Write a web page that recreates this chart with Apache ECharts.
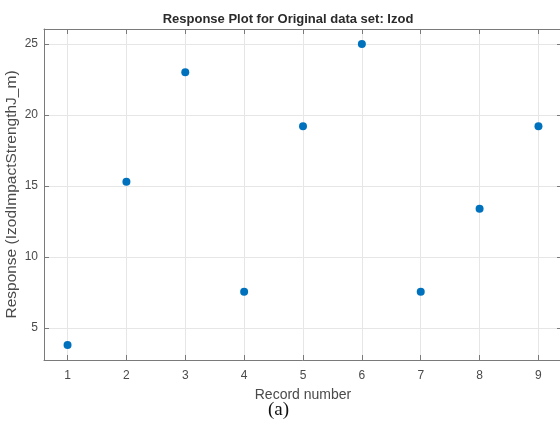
<!DOCTYPE html>
<html>
<head>
<meta charset="utf-8">
<script src="https://cdn.jsdelivr.net/npm/echarts@6/dist/echarts.min.js"></script>
<style>
  html, body { margin: 0; padding: 0; background: #fff; }
  #chart { width: 560px; height: 426px; }
</style>
</head>
<body>
<div id="chart"></div>
<script>
// Record numbers and the measured Izod impact strength response
const recordNumbers = [1, 2, 3, 4, 5, 6, 7, 8, 9];
const responseValues = [3.8, 15.3, 23.0, 7.55, 19.2, 25.0, 7.55, 13.4, 19.2];
const xTickValues = [1, 2, 3, 4, 5, 6, 7, 8, 9];
const yTickValues = [5, 10, 15, 20, 25];

const titleText = 'Response Plot for Original data set: Izod';
const xAxisName = 'Record number';
const yAxisName = 'Response (IzodImpactStrengthJ_m)';
const captionText = '(a)';

const xRange = [0.6, 9.4];
const yRange = [2.75, 26.05];

const axisColor = '#7a7a7a';
const labelColor = '#4a4a4a';
const gridColor = '#e6e6e6';
const markerColor = '#0072BD';
const sansFont = '"Liberation Sans", Arial, sans-serif';

const points = recordNumbers.map((r, i) => [r, responseValues[i]]);

const chart = echarts.init(document.getElementById('chart'), null, { renderer: 'canvas' });

const baseX = {
  type: 'value', min: xRange[0], max: xRange[1], gridIndex: 0
};
const baseY = {
  type: 'value', min: yRange[0], max: yRange[1], gridIndex: 0
};

chart.setOption({
  animation: false,
  backgroundColor: '#fff',
  title: [{
    text: titleText,
    left: 283, top: 8, textAlign: 'center',
    textStyle: { fontFamily: sansFont, fontSize: 13, fontWeight: 'bold', color: '#2b2b2b' }
  }],
  graphic: [{
    type: 'text',
    left: 268, top: 401,
    style: { text: captionText, font: '19px "Liberation Serif", "DejaVu Serif", serif', fill: '#111' }
  }],
  grid: { left: 44, top: 29, width: 518, height: 331, containLabel: false, outerBoundsMode: 'none' },
  xAxis: [
    Object.assign({}, baseX, {
      position: 'bottom',
      name: xAxisName, nameLocation: 'middle', nameGap: 28, nameMoveOverlap: false,
      nameTextStyle: { fontFamily: sansFont, fontSize: 14, color: labelColor },
      axisLine: { show: true, onZero: false, lineStyle: { color: axisColor, width: 1 } },
      axisTick: { show: true, inside: true, length: 5, customValues: xTickValues, lineStyle: { color: axisColor } },
      axisLabel: { show: true, customValues: xTickValues, margin: 10, fontFamily: sansFont, fontSize: 12, color: labelColor },
      splitLine: { show: true, customValues: xTickValues, lineStyle: { color: gridColor, width: 1 } }
    }),
    Object.assign({}, baseX, {
      position: 'top',
      axisLine: { show: true, onZero: false, lineStyle: { color: axisColor, width: 1 } },
      axisTick: { show: true, inside: true, length: 5, customValues: xTickValues, lineStyle: { color: axisColor } },
      axisLabel: { show: false },
      splitLine: { show: false }
    })
  ],
  yAxis: [
    Object.assign({}, baseY, {
      position: 'left',
      name: yAxisName, nameLocation: 'middle', nameGap: 24, nameRotate: 90, nameMoveOverlap: false,
      nameTextStyle: { fontFamily: sansFont, fontSize: 15.5, color: labelColor },
      axisLine: { show: true, onZero: false, lineStyle: { color: axisColor, width: 1 } },
      axisTick: { show: true, inside: true, length: 5, customValues: yTickValues, lineStyle: { color: axisColor } },
      axisLabel: { show: true, customValues: yTickValues, margin: 6, fontFamily: sansFont, fontSize: 12, color: labelColor },
      splitLine: { show: true, customValues: yTickValues, lineStyle: { color: gridColor, width: 1 } }
    }),
    Object.assign({}, baseY, {
      position: 'right',
      axisLine: { show: true, onZero: false, lineStyle: { color: axisColor, width: 1 } },
      axisTick: { show: true, inside: true, length: 5, customValues: yTickValues, lineStyle: { color: axisColor } },
      axisLabel: { show: false },
      splitLine: { show: false }
    })
  ],
  series: [{
    type: 'scatter',
    xAxisIndex: 0, yAxisIndex: 0,
    data: points,
    symbol: 'circle',
    symbolSize: 8,
    itemStyle: { color: markerColor, opacity: 1 }
  }]
});
</script>
</body>
</html>
